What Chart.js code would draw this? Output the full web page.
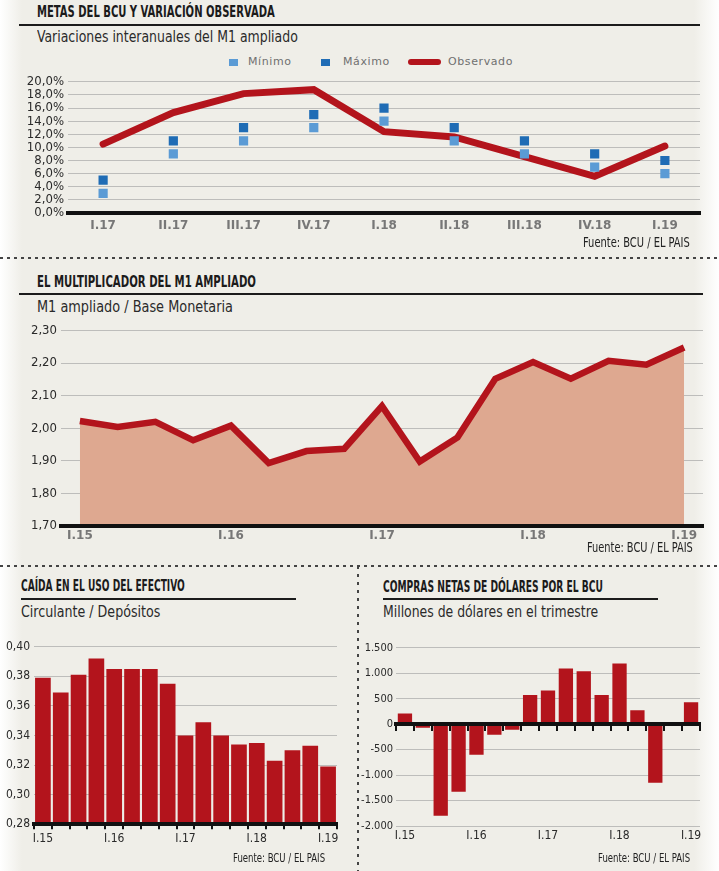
<!DOCTYPE html>
<html>
<head>
<meta charset="utf-8">
<script src="https://cdn.jsdelivr.net/npm/chart.js@4.4.1/dist/chart.umd.min.js"></script>
<style>
  body { margin:0; width:719px; height:871px; overflow:hidden; position:relative;
    background: linear-gradient(to right, #fff 0px, #efeee8 22px, #efeee8 694px, #fff 719px);
    font-family: 'DejaVu Sans Condensed', sans-serif; }
  .t, .s, .src { position:absolute; white-space:nowrap; transform-origin:0 50%; }
  .t { font-weight:bold; font-size:16px; color:#1b1b1b; line-height:20px; }
  .s { font-size:16px; color:#2a2a2a; line-height:20px; }
  .src { font-size:13px; color:#222; line-height:16px; }
  .rule { position:absolute; height:1.5px; background:#1b1b1b; }
  .hd { position:absolute; height:2px; left:0; width:719px;
    background: repeating-linear-gradient(to right, #444 0 3px, transparent 3px 7px); }
  .vd { position:absolute; width:2px;
    background: repeating-linear-gradient(to bottom, #444 0 3px, transparent 3px 8px); }
  .lg { position:absolute; font-family:'DejaVu Sans', sans-serif; font-size:11px; color:#707070;
    letter-spacing:0.6px; line-height:14px; white-space:nowrap; }
  .lk { position:absolute; }
  canvas { position:absolute; }
</style>
</head>
<body>

<div class="t" data-w="238" style="left:37px;top:2px">METAS DEL BCU Y VARIACIÓN OBSERVADA</div>
<div class="rule" style="left:19px;top:24px;width:681px"></div>
<div class="s" data-w="261" style="left:37px;top:27px">Variaciones interanuales del M1 ampliado</div>

<div class="lk" style="left:229px;top:59px;width:9px;height:7px;background:#5b9bd5"></div>
<div class="lg" style="left:248px;top:55px">Mínimo</div>
<div class="lk" style="left:321px;top:59px;width:9px;height:7px;background:#1f6cb5"></div>
<div class="lg" style="left:343px;top:55px">Máximo</div>
<div class="lk" style="left:408px;top:59px;width:33px;height:6px;border-radius:3px;background:#b3141c"></div>
<div class="lg" style="left:448px;top:55px">Observado</div>

<canvas id="metas" width="719" height="185" style="left:0;top:70px"></canvas>
<div class="src" data-w="107" style="left:583px;top:234px;font-size:14px">Fuente: BCU / EL PAIS</div>

<div class="hd" style="top:257px"></div>

<div class="t" data-w="219" style="left:37px;top:272px">EL MULTIPLICADOR DEL M1 AMPLIADO</div>
<div class="rule" style="left:19px;top:293px;width:684px"></div>
<div class="s" data-w="196" style="left:37px;top:297px">M1 ampliado / Base Monetaria</div>
<canvas id="multi" width="719" height="240" style="left:0;top:315px"></canvas>
<div class="src" data-w="106" style="left:587px;top:539px;font-size:14px">Fuente: BCU / EL PAIS</div>

<div class="hd" style="top:565px"></div>
<div class="vd" style="left:357px;top:566px;height:305px"></div>

<div class="t" data-w="164" style="left:21px;top:576px">CAÍDA EN EL USO DEL EFECTIVO</div>
<div class="rule" style="left:21px;top:598px;width:275px"></div>
<div class="s" data-w="139" style="left:21px;top:602px">Circulante / Depósitos</div>
<canvas id="efectivo" width="358" height="241" style="left:0;top:630px"></canvas>
<div class="src" data-w="92" style="left:233px;top:850px">Fuente: BCU / EL PAIS</div>

<div class="t" data-w="220" style="left:383px;top:577px">COMPRAS NETAS DE DÓLARES POR EL BCU</div>
<div class="rule" style="left:383px;top:598px;width:275px"></div>
<div class="s" data-w="215" style="left:383px;top:602px">Millones de dólares en el trimestre</div>
<canvas id="compras" width="359" height="241" style="left:360px;top:630px"></canvas>
<div class="src" data-w="92" style="left:598px;top:850px">Fuente: BCU / EL PAIS</div>

<script>
// datos
var trimestres17 = ["I.17", "II.17", "III.17", "IV.17", "I.18", "II.18", "III.18", "IV.18", "I.19"];
var minimo = [3, 9, 11, 13, 14, 11, 9, 7, 6];
var maximo = [5, 11, 13, 15, 16, 13, 11, 9, 8];
var observado = [10.5, 15.3, 18.2, 18.8, 12.4, 11.6, 8.6, 5.6, 10.2];

var trimestres15 = ["I.15", "II.15", "III.15", "IV.15", "I.16", "II.16", "III.16", "IV.16",
  "I.17", "II.17", "III.17", "IV.17", "I.18", "II.18", "III.18", "IV.18", "I.19"];
var multiplicador = [2.022, 2.004, 2.02, 1.963, 2.008, 1.893, 1.93, 1.937, 2.068,
  1.898, 1.972, 2.152, 2.203, 2.152, 2.207, 2.195, 2.248];
var efectivo = [0.379, 0.369, 0.381, 0.392, 0.385, 0.385, 0.385, 0.375, 0.340,
  0.349, 0.340, 0.334, 0.335, 0.323, 0.330, 0.333, 0.319];
var compras = [210, -70, -1800, -1330, -600, -210, -110, 570, 660,
  1090, 1040, 570, 1190, 270, -1150, -30, 430];

// textos angostos, como en el original
document.querySelectorAll("[data-w]").forEach(function (el) {
  el.style.transform = "scaleX(" + (el.dataset.w / el.offsetWidth) + ")";
});

var rojo = "#b3141c";
var gris = "#bdbdbb";

Chart.defaults.font.family = "'DejaVu Sans Condensed', sans-serif";
Chart.defaults.color = "#2a2a2a";
Chart.defaults.animation = false;
Chart.defaults.responsive = false;
Chart.defaults.devicePixelRatio = 1;
Chart.defaults.plugins.legend.display = false;
Chart.defaults.plugins.tooltip.enabled = false;

function coma(dec) {
  return function (v) { return Number(v).toFixed(dec).replace(".", ","); };
}
function cadaCuatro(v, i) { return i % 4 === 0 ? this.getLabelForValue(v) : ""; }
var negrita = { family: "'DejaVu Sans', sans-serif", size: 12, weight: "bold" };

// metas
new Chart(document.getElementById("metas"), {
  type: "line",
  data: {
    labels: trimestres17,
    datasets: [
      { label: "Mínimo", data: minimo, showLine: false, pointStyle: "rect",
        pointRadius: 6.5, pointBorderWidth: 0, pointBackgroundColor: "#5b9bd5" },
      { label: "Máximo", data: maximo, showLine: false, pointStyle: "rect",
        pointRadius: 6.5, pointBorderWidth: 0, pointBackgroundColor: "#1f6cb5" },
      { label: "Observado", data: observado, borderColor: rojo, borderWidth: 7,
        pointRadius: 0, borderCapStyle: "round", tension: 0 }
    ]
  },
  options: {
    layout: { padding: { top: 10, right: 19, left: 0, bottom: 0 } },
    scales: {
      x: {
        offset: true,
        grid: { display: false, drawTicks: false },
        border: { color: "#111", width: 4, z: 1 },
        ticks: { padding: 6, color: "#777", font: negrita },
        afterFit: function (s) { s.height = 42; }
      },
      y: {
        min: 0, max: 20,
        ticks: { stepSize: 2, padding: 4, autoSkip: false, font: { size: 13 },
          callback: function (v) { return coma(1)(v) + "%"; } },
        grid: { color: gris, drawTicks: false },
        border: { display: false },
        afterFit: function (s) { s.width = 68; }
      }
    }
  }
});

// multiplicador
new Chart(document.getElementById("multi"), {
  type: "line",
  data: {
    labels: trimestres15,
    datasets: [{
      label: "M1 ampliado / Base Monetaria", data: multiplicador,
      borderColor: rojo, borderWidth: 6.5, pointRadius: 0, tension: 0,
      fill: "start", backgroundColor: "#dea890"
    }]
  },
  options: {
    layout: { padding: { top: 15.5, right: 16, left: 0, bottom: 0 } },
    scales: {
      x: {
        offset: true,
        grid: { display: false, drawTicks: false },
        border: { color: "#111", width: 4, z: 1 },
        ticks: { padding: 3, autoSkip: false, maxRotation: 0, color: "#777",
          font: negrita, callback: cadaCuatro },
        afterFit: function (s) { s.height = 29; }
      },
      y: {
        min: 1.7, max: 2.3,
        ticks: { stepSize: 0.1, padding: 4, autoSkip: false, font: { size: 13 }, callback: coma(2) },
        grid: { color: gris, drawTicks: false },
        border: { display: false },
        afterFit: function (s) { s.width = 61; }
      }
    }
  }
});

// circulante / depositos
new Chart(document.getElementById("efectivo"), {
  type: "bar",
  data: {
    labels: trimestres15,
    datasets: [{ label: "Circulante / Depósitos", data: efectivo, backgroundColor: rojo,
      barPercentage: 0.88, categoryPercentage: 1 }]
  },
  options: {
    layout: { padding: { top: 16.7, right: 21, left: 0, bottom: 0 } },
    scales: {
      x: {
        grid: { drawOnChartArea: false, drawTicks: true, tickLength: 5, color: "#111", lineWidth: 2, offset: true },
        border: { color: "#111", width: 4, z: 1 },
        ticks: { padding: 2, autoSkip: false, maxRotation: 0, font: { size: 12 }, callback: cadaCuatro },
        afterFit: function (s) { s.height = 46.7; }
      },
      y: {
        min: 0.28, max: 0.40,
        ticks: { stepSize: 0.02, padding: 4, autoSkip: false, font: { size: 12 }, callback: coma(2) },
        grid: { color: gris, drawTicks: false },
        border: { display: false },
        afterFit: function (s) { s.width = 34; }
      }
    }
  }
});

// compras netas de dolares
new Chart(document.getElementById("compras"), {
  type: "bar",
  data: {
    labels: trimestres15,
    datasets: [{ label: "Millones de dólares", data: compras, backgroundColor: rojo,
      barPercentage: 0.8, categoryPercentage: 1 }]
  },
  options: {
    layout: { padding: { top: 17.7, right: 19, left: 0, bottom: 0 } },
    scales: {
      x: {
        grid: { display: false, drawTicks: false },
        border: { display: false },
        ticks: { padding: 3, autoSkip: false, maxRotation: 0, font: { size: 12 }, callback: cadaCuatro },
        afterFit: function (s) { s.height = 45; }
      },
      // eje del cero con marcas
      x2: {
        type: "category",
        position: { y: 0 },
        offset: true,
        grid: { drawOnChartArea: false, drawTicks: true, tickLength: 5, color: "#111", lineWidth: 2, offset: true, z: 1 },
        border: { color: "#111", width: 4, z: 1 },
        ticks: { display: false }
      },
      y: {
        min: -2000, max: 1500,
        ticks: { stepSize: 500, padding: 3, autoSkip: false, font: { size: 11 },
          callback: function (v) { return String(v).replace(/(\d)(\d{3})$/, "$1.$2"); } },
        grid: { color: gris, drawTicks: false },
        border: { display: false },
        afterFit: function (s) { s.width = 36; }
      }
    }
  }
});
</script>
</body>
</html>
